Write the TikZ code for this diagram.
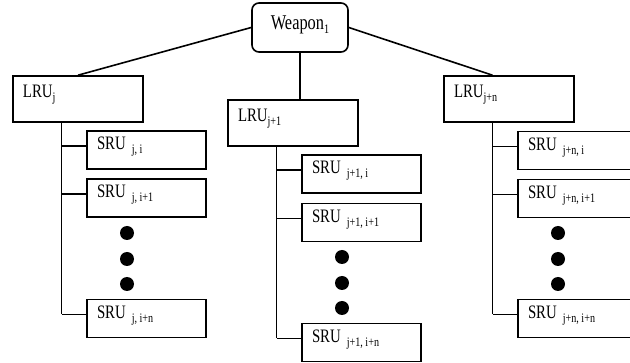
\documentclass[tikz,border=0pt]{standalone}
\usepackage{fontspec}
\setmainfont{Liberation Serif}[FakeStretch=0.78]
\newcommand{\sbs}[1]{\raisebox{-4pt}{\fontsize{13}{13}\selectfont #1}}
\newcommand{\cs}{,\kern2.5pt}
\begin{document}
\begin{tikzpicture}[x=1pt,y=-1pt,line width=1.6pt,
  box/.style={draw,rectangle,inner ysep=0pt,inner xsep=10pt,align=left},
  weapon/.style={draw,rectangle,rounded corners=7pt,inner sep=0pt,align=center,
    text width=96pt,minimum height=49pt,text height=27pt,text depth=22pt,
    font=\fontsize{21}{21}\selectfont},
  lru/.style={box,text width=110pt,minimum height=46pt,text height=22pt,text depth=24pt,
    font=\fontsize{19}{19}\selectfont},
  sru/.style={box,text width=99pt,minimum height=38pt,text height=19pt,text depth=19pt,
    font=\fontsize{19}{19}\selectfont},
  dotnode/.style={circle,fill=black,draw=none,inner sep=0pt,minimum size=14pt}]
\clip (0,0) rectangle (630,363);

\node[weapon] (w) at (300,27.5) {Weapon\sbs{1}};

\node[lru] (la) at (78,99) {LRU\sbs{j}};
\node[lru] (lb) at (293,123) {LRU\sbs{j+1}};
\node[lru] (lc) at (509,99) {LRU\sbs{j+n}};

\node[sru] (sa1) at (146.5,150) {SRU\kern6pt\sbs{j\cs i}};
\node[sru] (sa2) at (146.5,198) {SRU\kern6pt\sbs{j\cs i+1}};
\node[sru] (sa3) at (146.5,318.5) {SRU\kern6pt\sbs{j\cs i+n}};

\node[sru] (sb1) at (361.5,174) {SRU\kern6pt\sbs{j+1\cs i}};
\node[sru] (sb2) at (361.5,222.5) {SRU\kern6pt\sbs{j+1\cs i+1}};
\node[sru] (sb3) at (361.5,342.5) {SRU\kern6pt\sbs{j+1\cs i+n}};

\node[sru] (sc1) at (577.5,150.5) {SRU\kern6pt\sbs{j+n\cs i}};
\node[sru] (sc2) at (577.5,198.5) {SRU\kern6pt\sbs{j+n\cs i+1}};
\node[sru] (sc3) at (577.5,318.5) {SRU\kern6pt\sbs{j+n\cs i+n}};

\node[dotnode] (da1) at (127,233) {};
\node[dotnode] (da2) at (127,259) {};
\node[dotnode] (da3) at (127,284) {};
\node[dotnode] (db1) at (342,257) {};
\node[dotnode] (db2) at (342,283) {};
\node[dotnode] (db3) at (342,308) {};
\node[dotnode] (dc1) at (558,233) {};
\node[dotnode] (dc2) at (558,259) {};
\node[dotnode] (dc3) at (558,284) {};

% weapon to LRUs
\draw (w.west) -- (la.north);
\draw (w.south) -- (w.south |- lb.north);
\coordinate (tc0) at ([xshift=-16.5pt]lc.north);
\draw (w.east) -- (tc0);

% trunks and branches
\foreach \c in {a,b,c}{
  \coordinate (t\c) at ([xshift=-16.5pt]l\c.south);
  \foreach \k in {1,2,3}{
    \coordinate (p\c\k) at ([yshift=4pt]s\c\k.west);
    \draw (t\c |- p\c\k) -- (p\c\k);
  }
  \draw (t\c) -- (t\c |- p\c3);
}
\end{tikzpicture}
\end{document}
